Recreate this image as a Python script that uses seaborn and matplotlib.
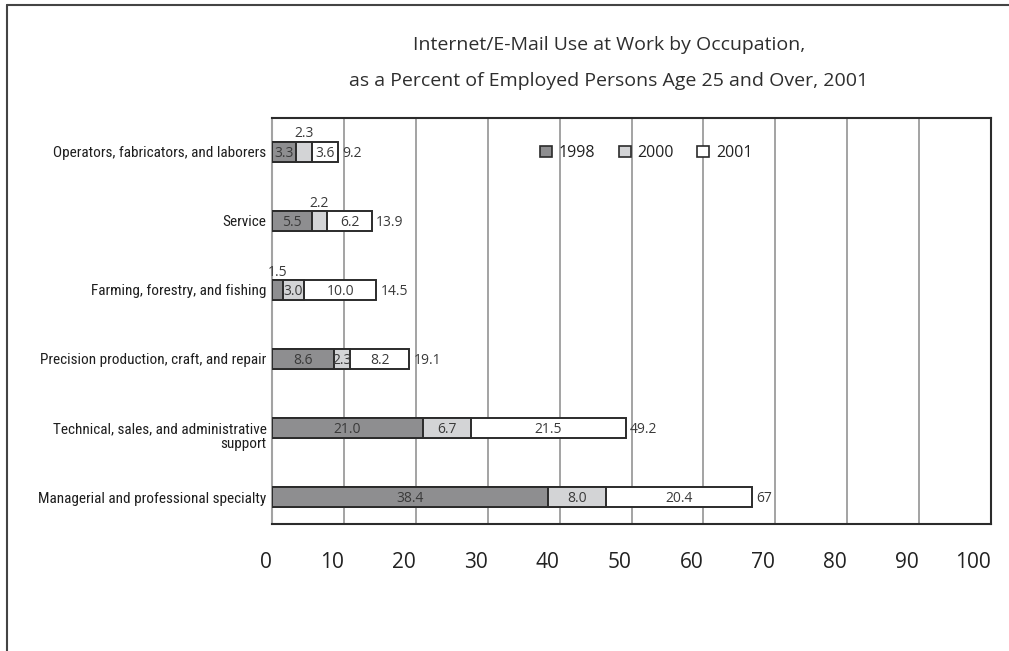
import matplotlib
matplotlib.use("Agg")
import matplotlib.pyplot as plt
import matplotlib.patches as mpatches
from matplotlib.lines import Line2D
from matplotlib.transforms import offset_copy
import seaborn as sns
import pandas as pd

# Data
occupations = [
    "Operators, fabricators, and laborers",
    "Service",
    "Farming, forestry, and fishing",
    "Precision production, craft, and repair",
    "Technical, sales, and administrative\nsupport",
    "Managerial and professional specialty",
]
years = ["1998", "2000", "2001"]
use_1998 = [3.3, 5.5, 1.5, 8.6, 21.0, 38.4]
use_2000 = [2.3, 2.2, 3.0, 2.3, 6.7, 8.0]
use_2001 = [3.6, 6.2, 10.0, 8.2, 21.5, 20.4]
totals = ["9.2", "13.9", "14.5", "19.1", "49.2", "67"]
x_ticks = [0, 10, 20, 30, 40, 50, 60, 70, 80, 90, 100]

# Narrow segments whose value label sits above the bar: (row, segment)
labels_above = {(0, 1), (1, 1), (2, 0)}

sns.set_theme(style="white")
plt.rcParams["font.family"] = ["Open Sans", "DejaVu Sans"]
label_family = ["Roboto Condensed", "Liberation Sans", "DejaVu Sans"]

W, H = 1009, 651
fig = plt.figure(figsize=(W / 100, H / 100), dpi=100)
ax = fig.add_axes([272 / W, 1 - 524 / H, (991 - 272) / W, (524 - 118) / H])

df = pd.DataFrame({
    "occupation": occupations,
    "y1998": use_1998,
    "y2000": use_2000,
    "y2001": use_2001,
})
df["c1998"] = df["y1998"]
df["c2000"] = df["y1998"] + df["y2000"]
df["c2001"] = df["c2000"] + df["y2001"]

colors = {"1998": "#8e8e90", "2000": "#d3d4d6", "2001": "#ffffff"}
edge = "#2b2b2b"
bar_h = 0.28

# Stacked bars drawn as overlapping cumulative layers, longest first
for col, yr in [("c2001", "2001"), ("c2000", "2000"), ("c1998", "1998")]:
    sns.barplot(data=df, x=col, y="occupation", orient="h", color=colors[yr],
                saturation=1, width=bar_h, edgecolor=edge, linewidth=1.4,
                ax=ax, zorder=3)

ax.set_xlim(0, 100)
ax.set_ylim(5.39, -0.49)
ax.set_xlabel("")
ax.set_ylabel("")

# Grid
for x in x_ticks[1:-1]:
    ax.axvline(x, color="#a3a3a3", lw=1.4, zorder=1)

for side in ["top", "right", "bottom"]:
    ax.spines[side].set_color("#2b2b2b")
    ax.spines[side].set_linewidth(1.5)
ax.spines["left"].set_color("#a3a3a3")
ax.spines["left"].set_linewidth(1.5)

ax.set_xticks(x_ticks)
ax.set_xticklabels([str(t) for t in x_ticks], fontsize=15, color="#222222",
                   ha="right")
ax.tick_params(axis="x", length=0, pad=20)
ax.tick_params(axis="y", length=0, pad=4)
for lbl in ax.get_yticklabels():
    lbl.set_fontfamily(label_family)
    lbl.set_fontsize(11)
    lbl.set_color("#1e1e1e")
    lbl.set_multialignment("right")
    lbl.set_linespacing(1.0)
    if "\n" in lbl.get_text():
        # first line level with the bar, continuation below
        lbl.set_transform(offset_copy(lbl.get_transform(), fig=fig, y=-7, units="dots"))

# Segment value labels
val_kw = dict(fontsize=10, color="#3a3a3a", zorder=5)
for i in range(len(occupations)):
    segs = [(0, use_1998[i]), (df["c1998"][i], use_2000[i]), (df["c2000"][i], use_2001[i])]
    for k, (start, val) in enumerate(segs):
        if (i, k) in labels_above:
            ax.text(start + val / 2, i - bar_h / 2 - 0.01, f"{val:.1f}",
                    va="bottom", ha="center", **val_kw)
        else:
            ax.text(start + val / 2, i + 0.02, f"{val:.1f}",
                    va="center", ha="center", **val_kw)
    ax.text(df["c2001"][i] + 0.6, i + 0.02, totals[i],
            va="center", ha="left", **val_kw)

# Legend
handles = [mpatches.Patch(facecolor=colors[y], edgecolor=edge, linewidth=1.2, label=y)
           for y in years]
leg = fig.legend(handles=handles, ncol=3, frameon=False, loc="center",
                 bbox_to_anchor=(646 / W, 1 - 153 / H), fontsize=11.5,
                 handlelength=0.75, handleheight=0.75, handletextpad=0.4,
                 columnspacing=1.5)
for t in leg.get_texts():
    t.set_color("#222222")

# Title
fig.text(609 / W, 1 - 45 / H, "Internet/E-Mail Use at Work by Occupation,",
         ha="center", va="center", fontsize=14, color="#2e2e2e")
fig.text(609 / W, 1 - 81 / H,
         "as a Percent of Employed Persons Age 25 and Over, 2001",
         ha="center", va="center", fontsize=14, color="#2e2e2e")

# Outer frame
fig.add_artist(Line2D([7 / W, 1.0], [1 - 5 / H, 1 - 5 / H], color="#444444", lw=1.5))
fig.add_artist(Line2D([7 / W, 7 / W], [0.0, 1 - 5 / H], color="#444444", lw=1.5))

fig.savefig("out.png", dpi=100)
